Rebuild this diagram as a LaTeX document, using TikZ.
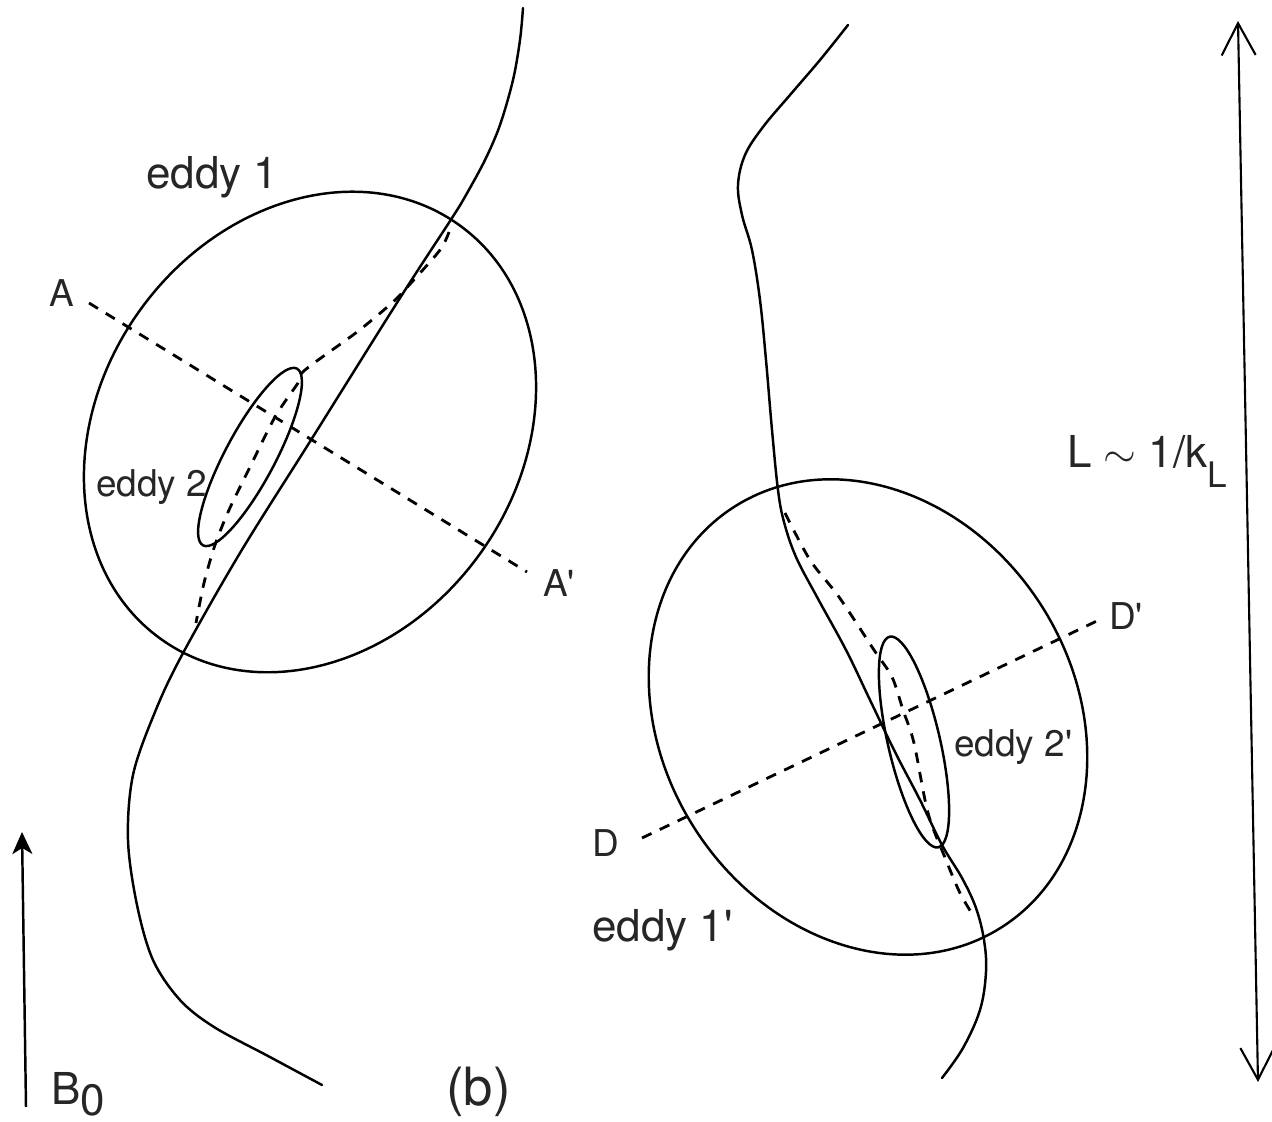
\documentclass[tikz,border=0pt]{standalone}
\usepackage{fontspec}
\setmainfont{TeX Gyre Heros}
\usetikzlibrary{arrows.meta}

\begin{document}
\begin{tikzpicture}[x=0.01cm, y=-0.01cm, line width=0.7pt,
  fieldline/.style={line join=round, line cap=round},
  cutline/.style={line width=0.8pt, dash pattern=on 3pt off 2.6pt},
  lbl/.style={anchor=base west, inner sep=0pt, text=black!85},
  biglbl/.style={lbl, font=\fontsize{12.5}{15}\selectfont},
  smalllbl/.style={lbl, font=\fontsize{10.5}{12}\selectfont}]
  \useasboundingbox (0,0) rectangle (1272,1122);
  % eddies (left)
  \draw[rotate around={54:(310,432)}] (310,432) ellipse [x radius=2.55cm, y radius=2.09cm];
  \draw[rotate around={62:(250,457)}] (250,457) ellipse [x radius=1.00cm, y radius=0.25cm];
  % eddies (right)
  \draw[rotate around={-57.7:(868,717)}] (868,717) ellipse [x radius=2.49cm, y radius=2.06cm];
  \draw[rotate around={103:(914,742)}] (914,742) ellipse [x radius=1.08cm, y radius=0.26cm];
  % field line (left)
  \draw[fieldline] plot[smooth, tension=0.55] coordinates {(523,8) (520,40) (513,80) (500,125)
    (485,160) (466,195) (452,218) (400,298) (311,440) (240,553) (182,655) (155,712) (133,775)
    (128,840) (137,905) (153,960) (180,1000) (214,1027) (268,1056) (322,1085)};
  \draw[cutline] plot[smooth, tension=0.5] coordinates {(449,232) (440,250) (411,283) (393,302)
    (357,332) (305,370) (298,383) (275,417) (250,467) (229,510) (215,545) (204,583) (196,623)};
  % field line (right)
  \draw[fieldline] plot[smooth, tension=0.6] coordinates {(848,25) (820,60) (790,95) (763,127)
    (745,155) (738,185) (742,215) (752,250) (760,300) (766,360) (772,430) (778,490) (784,522)
    (796,557) (817,597) (846,650) (870,700) (895,752) (920,800) (942,845) (962,878) (976,908)
    (984,940) (986,972) (980,1010) (963,1048) (942,1078)};
  \draw[cutline] plot[smooth, tension=0.5] coordinates {(785,513) (810,560) (839,597) (874,650)
    (892,677) (903,710) (914,743) (928,813) (946,860) (960,893) (974,917)};
  % cuts
  \coordinate (a0) at (89,303);
  \coordinate (a1) at (527,572);
  \coordinate (d0) at (642,838);
  \coordinate (d1) at (1099,620);
  \draw[cutline] (a0) -- (a1);
  \draw[cutline] (d0) -- (d1);
  % labels
  \node[biglbl] (e1) at (145,189) {eddy 1};
  \node[smalllbl] (e2) at (95,497) {eddy 2};
  \node[biglbl] (e1p) at (591,942) {eddy 1\textquotesingle};
  \node[smalllbl] (e2p) at (953,757) {eddy 2\textquotesingle};
  \node[smalllbl] (la) at (48,307) {A};
  \node[smalllbl] (lap) at (542,597) {A\textquotesingle};
  \node[smalllbl] (ld) at (591,857) {D};
  \node[smalllbl] (ldp) at (1108,630) {D\textquotesingle};
  \node[lbl, font=\fontsize{15}{18}\selectfont] (fig) at (445,1106) {(b)};
  \node[biglbl] (bz) at (50,1105) {B\raisebox{-0.25em}{0}};
  \node[biglbl] (scale) at (1066,468) {L $\sim$ 1/k\raisebox{-0.45em}{\fontsize{10}{12}\selectfont L}};
  % B0 and L arrows
  \coordinate (b0) at (26,1107);
  \coordinate (b1) at (22,832);
  \draw[-{Stealth[length=2.2mm, width=2mm, inset=0.6mm]}] (b0) -- (b1);
  \coordinate (l0) at (1238,21);
  \coordinate (l1) at (1258,1082);
  \draw[line width=0.6pt, {Straight Barb[length=3.2mm, width=3.4mm]}-{Straight Barb[length=3.2mm, width=3.4mm]}] (l0) -- (l1);
\end{tikzpicture}
\end{document}
